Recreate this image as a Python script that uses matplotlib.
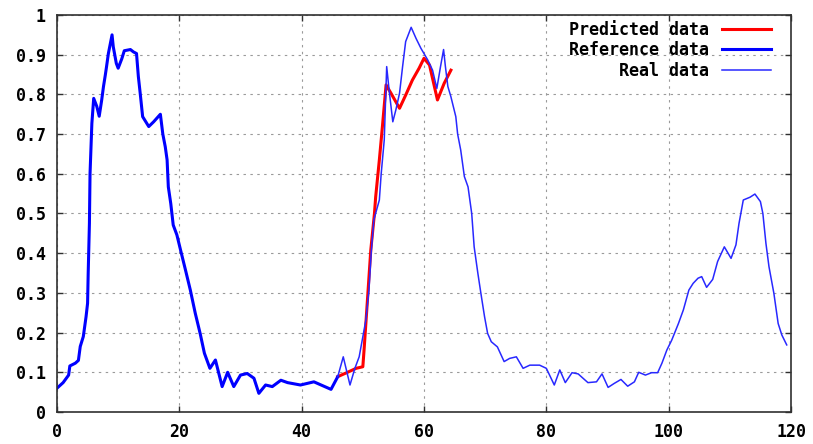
import matplotlib
matplotlib.use('Agg')
import matplotlib.pyplot as plt
from matplotlib.ticker import MultipleLocator, FuncFormatter

# Reference data (thick blue)
ref_x = [0, 1, 1.9, 2.1, 3, 3.5, 3.8, 4.3, 4.75, 5, 5.1, 5.3, 5.4, 5.7, 6, 6.5, 6.9, 7.3,
         7.6, 7.9, 8.1, 8.4, 9, 9.2, 9.7, 10, 10.6, 11, 12, 12.5, 13, 13.3, 13.6, 14, 15,
         15.8, 16.9, 17.3, 17.7, 18, 18.2, 18.6, 19, 19.6, 20.2, 21, 21.8, 22.6, 23.4, 24.1,
         25, 25.9, 27, 27.9, 28.9, 30, 31.1, 32.2, 33, 34.1, 35.2, 36.6, 37.7, 39.8, 42,
         44.8, 45.9]
ref_y = [0.06, 0.074, 0.093, 0.116, 0.123, 0.13, 0.165, 0.19, 0.24, 0.274, 0.35, 0.475,
         0.6, 0.727, 0.79, 0.77, 0.745, 0.785, 0.82, 0.849, 0.87, 0.903, 0.95, 0.92, 0.878,
         0.866, 0.89, 0.91, 0.913, 0.907, 0.903, 0.845, 0.803, 0.744, 0.719, 0.731, 0.75,
         0.70, 0.668, 0.635, 0.567, 0.525, 0.471, 0.446, 0.408, 0.358, 0.307, 0.249, 0.198,
         0.148, 0.11, 0.131, 0.064, 0.10, 0.064, 0.093, 0.097, 0.085, 0.047, 0.068, 0.064,
         0.08, 0.074, 0.068, 0.076, 0.057, 0.089]

# Predicted data (thick red)
pred_x = [45.9, 47.5, 48.9, 50, 50.2, 50.5, 50.9, 51.3, 51.9, 52.1, 52.7, 53.2, 53.8,
          54.6, 56, 57, 58.1, 59.2, 60, 60.9, 62.2, 63.3, 64.4]
pred_y = [0.089, 0.10, 0.11, 0.114, 0.156, 0.224, 0.316, 0.408, 0.50, 0.542, 0.635, 0.719,
          0.824, 0.803, 0.765, 0.798, 0.836, 0.866, 0.891, 0.874, 0.786, 0.828, 0.861]

# Real data (thin blue)
real_x = [45.9, 46.8, 47.9, 48.7, 49.4, 49.9, 50.5, 51, 51.4, 51.8, 52.7, 53.0, 53.5, 53.9,
          54.3, 54.9, 55.4, 56, 56.5, 57, 57.9, 58.7, 59.5, 60.6, 61.4, 62.1, 62.7, 63.2,
          63.5, 63.9, 64.4, 65.2, 65.5, 66, 66.6, 67.2, 67.8, 68.2, 68.8, 69.3, 69.9, 70.4,
          71, 72, 73.1, 74, 75.1, 76.2, 77.3, 78.9, 80, 81.3, 82.2, 83.1, 84.2, 85.2, 86.8,
          88.2, 89.1, 90.1, 91.1, 92.2, 93.3, 94.4, 95.1, 96.2, 97.2, 98.2, 98.9, 99.7,
          100.5, 101.6, 102.4, 103.3, 104, 104.8, 105.4, 106.2, 107.2, 108, 109.1, 110.2,
          111, 111.5, 112.2, 113.3, 114.1, 115, 115.4, 115.9, 116.4, 117.2, 117.9, 118.5,
          119.3]
real_y = [0.089, 0.139, 0.068, 0.11, 0.139, 0.181, 0.232, 0.307, 0.408, 0.484, 0.534, 0.60,
          0.685, 0.87, 0.81, 0.731, 0.761, 0.803, 0.87, 0.933, 0.969, 0.941, 0.916, 0.887,
          0.861, 0.815, 0.87, 0.913, 0.87, 0.82, 0.794, 0.744, 0.70, 0.66, 0.593, 0.567,
          0.50, 0.416, 0.35, 0.299, 0.24, 0.198, 0.177, 0.164, 0.127, 0.135, 0.139, 0.11,
          0.118, 0.118, 0.11, 0.068, 0.106, 0.074, 0.099, 0.096, 0.074, 0.076, 0.096, 0.062,
          0.072, 0.082, 0.065, 0.076, 0.10, 0.093, 0.099, 0.099, 0.123, 0.156, 0.181, 0.223,
          0.257, 0.307, 0.324, 0.337, 0.341, 0.314, 0.334, 0.379, 0.416, 0.387, 0.421,
          0.475, 0.534, 0.541, 0.549, 0.53, 0.50, 0.425, 0.366, 0.299, 0.223, 0.194, 0.169]

fnt = {'family': 'DejaVu Sans Mono', 'weight': 'bold', 'size': 12}

fig = plt.figure(figsize=(8.13, 4.44), dpi=100)
ax = fig.add_axes([57 / 813, 32 / 444, (791 - 57) / 813, (412 - 15) / 444])

ax.plot(pred_x, pred_y, color='#ff0000', lw=2.2, label='Predicted data')
ax.plot(ref_x, ref_y, color='#0000ff', lw=2.2, label='Reference data')
ax.plot(real_x, real_y, color='#2828ff', lw=1.1, label='Real data')

ax.set_xlim(0, 120)
ax.set_ylim(0, 1)
ax.xaxis.set_major_locator(MultipleLocator(20))
ax.yaxis.set_major_locator(MultipleLocator(0.1))
ax.yaxis.set_major_formatter(FuncFormatter(lambda v, p: f'{v:.1f}'.replace('0.0', '0').replace('1.0', '1')))
ax.grid(True, color='#9a9a9a', ls=(0, (2.2, 4)), lw=0.8)
ax.tick_params(direction='in', top=True, right=True, length=4, width=1, pad=8, colors='#303030')
for lab in ax.get_xticklabels() + ax.get_yticklabels():
    lab.set_fontfamily(fnt['family'])
    lab.set_fontweight('bold')
    lab.set_fontsize(fnt['size'])
    lab.set_color('black')
for sp in ax.spines.values():
    sp.set_linewidth(1.2)
    sp.set_color('#303030')

leg = ax.legend(loc='upper right', bbox_to_anchor=(0.973, 0.985), frameon=False,
                markerfirst=False, prop=fnt, handlelength=2.95, handletextpad=0.8,
                labelspacing=0.14, borderaxespad=0, borderpad=0)
# gnuplot style: labels right aligned
leg._legend_handle_box.get_children()[0].align = 'right'

fig.savefig('out.png', dpi=100)
